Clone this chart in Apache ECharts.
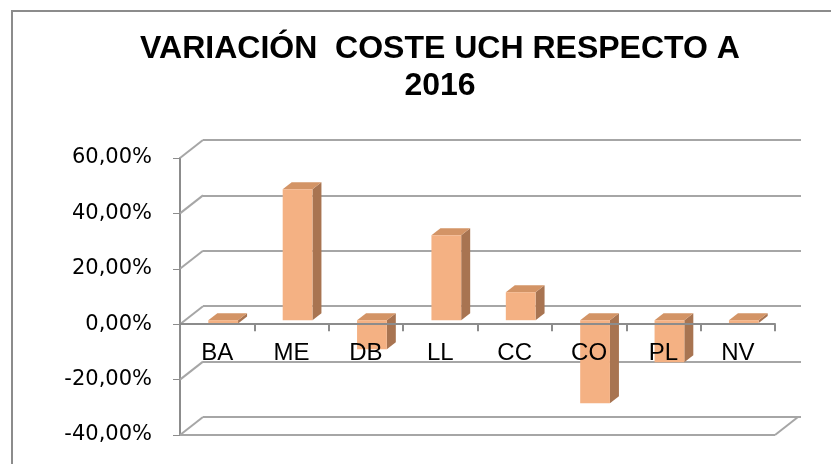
<!DOCTYPE html>
<html>
<head>
<meta charset="utf-8">
<script src="https://cdn.jsdelivr.net/npm/echarts@6/dist/echarts.min.js"></script>
<style>
  html, body { margin: 0; padding: 0; background: #ffffff; }
  #chart { width: 831px; height: 464px; }
</style>
</head>
<body>
<div id="chart"></div>
<script>
// datos
var categories = ['BA', 'ME', 'DB', 'LL', 'CC', 'CO', 'PL', 'NV'];
var variacion = [-1.2, 47.3, -10.5, 30.7, 10.1, -30.0, -15.2, -1.0];
var ticks = [-40, -20, 0, 20, 40, 60];
var Y_MIN = -40, Y_MAX = 60;

// perspectiva 3D (px)
var WALL = [23, -18];   // profundidad de la pared de fondo
var FRONT = [6, -4];    // cara frontal de la barra respecto al plano frontal
var DEPTH = [9, -7];    // fondo de la barra
var GRID_COLOR = '#a6a6a6';
var G = { left: 180, right: 56, top: 158, bottom: 29 };
var plotH = 464 - G.top - G.bottom;
// el eje de categorías va sobre el 0
var zeroOffset = -plotH * (0 - Y_MIN) / (Y_MAX - Y_MIN);

var chart = echarts.init(document.getElementById('chart'));

// barras con cara frontal, lateral y superior
function renderBar(params, api) {
  var i = api.value(0), v = api.value(1);
  var top = api.coord([i, Math.max(v, 0)]);
  var bot = api.coord([i, Math.min(v, 0)]);
  var bw = api.size([1, 0])[0] * 0.4;
  var x0 = top[0] + FRONT[0] - bw / 2, x1 = x0 + bw;
  var y0 = top[1] + FRONT[1], y1 = bot[1] + FRONT[1];
  var dx = DEPTH[0], dy = DEPTH[1];
  return {
    type: 'group',
    children: [
      { type: 'polygon', shape: { points: [[x1, y0], [x1 + dx, y0 + dy], [x1 + dx, y1 + dy], [x1, y1]] },
        style: { fill: '#a87451' } },
      { type: 'polygon', shape: { points: [[x0, y0], [x0 + dx, y0 + dy], [x1 + dx, y0 + dy], [x1, y0]] },
        style: { fill: '#d39466' } },
      { type: 'rect', shape: { x: x0, y: y0, width: bw, height: y1 - y0 },
        style: { fill: '#f4b183' } }
    ]
  };
}

// pared izquierda y suelo
function renderWall(params, api) {
  var v = api.value(1);
  var half = api.size([1, 0])[0] / 2;
  var p = api.coord([0, v]);
  var xl = p[0] - half;
  var children = [
    { type: 'line', shape: { x1: xl, y1: p[1], x2: xl + WALL[0], y2: p[1] + WALL[1] },
      style: { stroke: GRID_COLOR, lineWidth: 2 } }
  ];
  if (v === Y_MIN) {
    var xr = api.coord([categories.length - 1, v])[0] + half;
    children.push(
      { type: 'line', shape: { x1: xl, y1: p[1], x2: xr, y2: p[1] },
        style: { stroke: GRID_COLOR, lineWidth: 2 } },
      { type: 'line', shape: { x1: xr, y1: p[1], x2: xr + WALL[0], y2: p[1] + WALL[1] },
        style: { stroke: GRID_COLOR, lineWidth: 2 } }
    );
  }
  return { type: 'group', children: children };
}

chart.setOption({
  animation: false,
  backgroundColor: '#ffffff',
  graphic: [
    { type: 'rect', shape: { x: 12, y: 11, width: 900, height: 520 },
      style: { fill: 'none', stroke: '#8c8c8c', lineWidth: 2 }, z: -10 },
    { type: 'text', x: 440, y: 68,
      style: {
        text: 'VARIACIÓN  COSTE UCH RESPECTO A\n2016',
        font: 'bold 32px "Liberation Sans", Arial, sans-serif',
        lineHeight: 37, fill: '#000000', align: 'center', verticalAlign: 'middle'
      } }
  ],
  grid: [
    { left: G.left, right: G.right, top: G.top, bottom: G.bottom, outerBoundsMode: 'none', containLabel: false },
    { left: G.left + WALL[0], right: G.right - WALL[0] - 3, top: G.top + WALL[1], bottom: G.bottom - WALL[1],
      outerBoundsMode: 'none', containLabel: false }
  ],
  xAxis: [
    {
      type: 'category', gridIndex: 0, data: categories, z: 5,
      offset: zeroOffset,
      axisLine: { onZero: false, lineStyle: { color: '#8c8c8c', width: 2 } },
      axisTick: { show: true, length: 7, lineStyle: { color: '#8c8c8c', width: 2 } },
      axisLabel: { margin: 17, color: '#000000', fontSize: 24, fontFamily: '"Liberation Sans", Arial, sans-serif' }
    },
    { type: 'category', gridIndex: 1, data: categories, show: false }
  ],
  yAxis: [
    {
      type: 'value', gridIndex: 0, min: Y_MIN, max: Y_MAX, interval: 20,
      axisLine: { show: true, lineStyle: { color: '#8c8c8c', width: 2 } },
      axisTick: { show: true, length: 7, lineStyle: { color: '#8c8c8c', width: 1 } },
      splitLine: { show: false },
      axisLabel: {
        margin: 28, color: '#000000', fontSize: 21, fontFamily: '"DejaVu Sans", sans-serif',
        formatter: function (v) { return v.toFixed(2).replace('.', ',') + '%'; }
      }
    },
    {
      type: 'value', gridIndex: 1, min: Y_MIN, max: Y_MAX, interval: 20,
      axisLine: { show: false }, axisTick: { show: false }, axisLabel: { show: false },
      splitLine: { show: true, lineStyle: { color: GRID_COLOR, width: 2 } }
    }
  ],
  series: [
    {
      type: 'custom', xAxisIndex: 0, yAxisIndex: 0, z: 1, silent: true,
      renderItem: renderWall,
      data: ticks.map(function (t) { return [0, t]; })
    },
    {
      type: 'custom', xAxisIndex: 0, yAxisIndex: 0, z: 2,
      renderItem: renderBar,
      data: variacion.map(function (v, i) { return [i, v]; })
    }
  ]
});
</script>
</body>
</html>
